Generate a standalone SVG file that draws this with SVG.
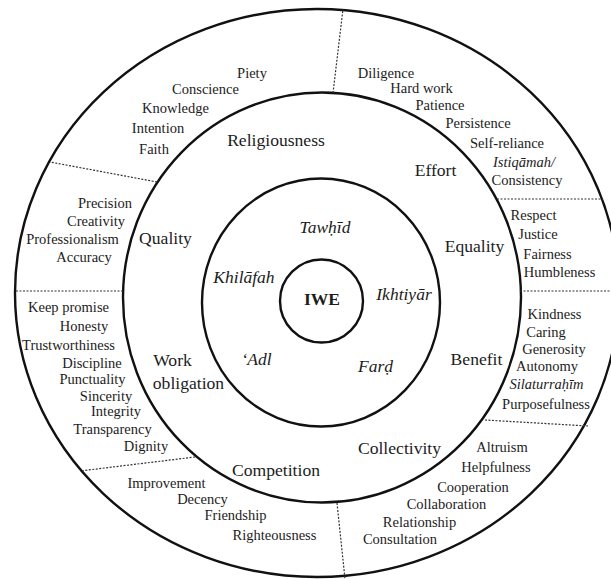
<svg xmlns="http://www.w3.org/2000/svg" width="611" height="579" viewBox="0 0 611 579" font-family="'Liberation Serif', 'DejaVu Serif', serif">
<style>
.ring{fill:none;stroke:#111;stroke-width:2.4}
.div{stroke:#333;stroke-width:1.2;stroke-dasharray:2 1.5;fill:none}
text{fill:#1c1c1c;text-anchor:middle}
.s{font-size:14.5px}
.l{font-size:17.6px}
.i{font-style:italic}
.c{font-size:17.5px;font-style:italic}
.b{font-size:17.5px;font-weight:bold}
</style>
<rect width="611" height="579" fill="#fff"/>
<g id="rings">
<ellipse class="ring" cx="317" cy="293" rx="302" ry="284"/>
<ellipse class="ring" cx="322" cy="297.5" rx="199" ry="205"/>
<ellipse class="ring" cx="321" cy="302.5" rx="119" ry="124"/>
<circle class="ring" cx="321.5" cy="301" r="41.5"/>
</g>
<g id="connectors">
<line class="div" x1="333" y1="93" x2="343" y2="9"/>
<line class="div" x1="157" y1="182" x2="50" y2="162"/>
<line class="div" x1="123" y1="291" x2="15" y2="291"/>
<line class="div" x1="195" y1="457" x2="80" y2="471"/>
<line class="div" x1="337" y1="503" x2="345" y2="579"/>
<line class="div" x1="485" y1="420" x2="588" y2="426"/>
<line class="div" x1="520" y1="291" x2="620" y2="291"/>
<line class="div" x1="497" y1="199" x2="603" y2="199"/>
</g>
<g id="core"><text class="b" x="322" y="305">IWE</text></g>
<g id="principles">
<text class="c" x="325" y="233">Tawḥīd</text>
<text class="c" x="244" y="283">Khilāfah</text>
<text class="c" x="404" y="299.5">Ikhtiyār</text>
<text class="c" x="256.5" y="365">‘Adl</text>
<text class="c" x="375.5" y="372">Farḍ</text>
</g>
<g id="religiousness">
<text class="l" x="276" y="146">Religiousness</text>
<text class="s" x="252" y="78">Piety</text>
<text class="s" x="205.5" y="94">Conscience</text>
<text class="s" x="175.5" y="113">Knowledge</text>
<text class="s" x="158" y="133">Intention</text>
<text class="s" x="154" y="154">Faith</text>
</g>
<g id="effort">
<text class="l" x="435.5" y="176">Effort</text>
<text class="s" x="386" y="77.5">Diligence</text>
<text class="s" x="421.5" y="93">Hard work</text>
<text class="s" x="440" y="109.5">Patience</text>
<text class="s" x="478" y="128">Persistence</text>
<text class="s" x="507" y="147.5">Self-reliance</text>
<text class="s i" x="524" y="167">Istiqāmah/</text>
<text class="s" x="527" y="184.5">Consistency</text>
</g>
<g id="equality">
<text class="l" x="474.5" y="252">Equality</text>
<text class="s" x="533.5" y="220">Respect</text>
<text class="s" x="538" y="238.5">Justice</text>
<text class="s" x="547.5" y="259">Fairness</text>
<text class="s" x="559.5" y="277">Humbleness</text>
</g>
<g id="benefit">
<text class="l" x="476.5" y="364.5">Benefit</text>
<text class="s" x="554.5" y="318.5">Kindness</text>
<text class="s" x="546" y="337">Caring</text>
<text class="s" x="554" y="354">Generosity</text>
<text class="s" x="547" y="371">Autonomy</text>
<text class="s i" x="546.5" y="388.5">Silaturraḥīm</text>
<text class="s" x="546" y="408.5">Purposefulness</text>
</g>
<g id="collectivity">
<text class="l" x="399.5" y="454">Collectivity</text>
<text class="s" x="502" y="452">Altruism</text>
<text class="s" x="496" y="472">Helpfulness</text>
<text class="s" x="473" y="492">Cooperation</text>
<text class="s" x="446.5" y="509">Collaboration</text>
<text class="s" x="419.5" y="527">Relationship</text>
<text class="s" x="400" y="543.5">Consultation</text>
</g>
<g id="competition">
<text class="l" x="276" y="476">Competition</text>
<text class="s" x="166.5" y="487.5">Improvement</text>
<text class="s" x="202.5" y="503.5">Decency</text>
<text class="s" x="235.5" y="520">Friendship</text>
<text class="s" x="274.5" y="539.5">Righteousness</text>
</g>
<g id="work-obligation">
<text class="l" x="172.5" y="366">Work</text>
<text class="l" x="188.5" y="388.5">obligation</text>
<text class="s" x="68.5" y="312">Keep promise</text>
<text class="s" x="84" y="331">Honesty</text>
<text class="s" x="68.5" y="349.5">Trustworthiness</text>
<text class="s" x="92" y="367.5">Discipline</text>
<text class="s" x="92.5" y="384">Punctuality</text>
<text class="s" x="106" y="401">Sincerity</text>
<text class="s" x="116" y="416">Integrity</text>
<text class="s" x="112.5" y="434">Transparency</text>
<text class="s" x="146" y="451">Dignity</text>
</g>
<g id="quality">
<text class="l" x="165.5" y="243.5">Quality</text>
<text class="s" x="105" y="208">Precision</text>
<text class="s" x="96" y="226">Creativity</text>
<text class="s" x="72.5" y="244">Professionalism</text>
<text class="s" x="84" y="262">Accuracy</text>
</g>
</svg>
